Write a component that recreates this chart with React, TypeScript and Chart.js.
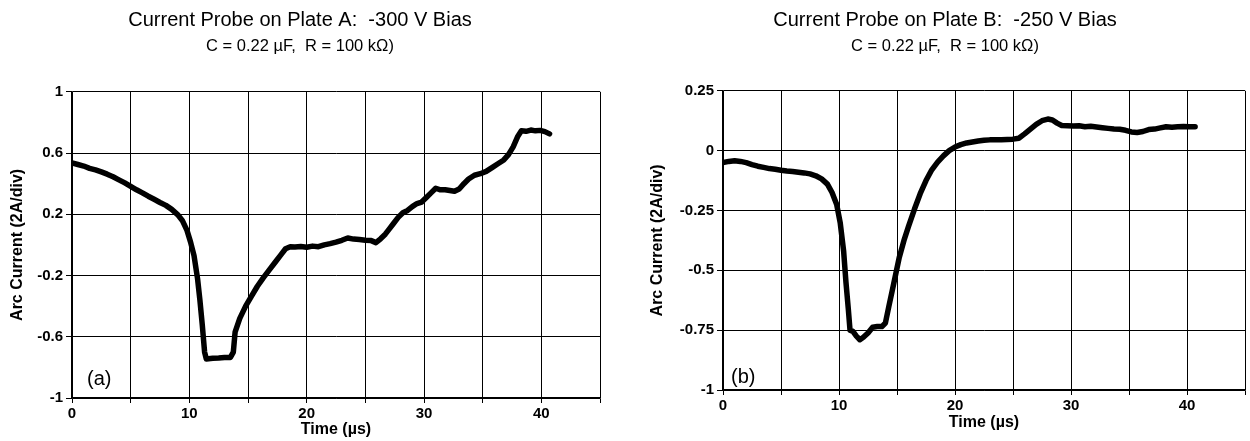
import React, { useEffect, useRef } from "react";
import { Chart, registerables } from "chart.js";

Chart.register(...registerables);

const FONT = "'Liberation Sans', Arial, Helvetica, sans-serif";

const titleA = "Current Probe on Plate A:  -300 V Bias";
const titleB = "Current Probe on Plate B:  -250 V Bias";
const subtitleText = "C = 0.22 µF,  R = 100 kΩ)";
const yAxisTitle = "Arc Current (2A/div)";
const xAxisTitle = "Time (µs)";
const panelA = "(a)";
const panelB = "(b)";

const xGrid = [0, 5, 10, 15, 20, 25, 30, 35, 40, 45];
const xTickLabels = [0, 10, 20, 30, 40];
const yTicksA = [-1, -0.6, -0.2, 0.2, 0.6, 1];
const yTicksB = [-1, -0.75, -0.5, -0.25, 0, 0.25];

const timeA = [
  0, 0.5, 1, 1.5, 2, 2.5, 3, 3.5, 4, 4.5, 5, 5.5, 6, 6.5, 7, 7.5, 8, 8.5, 9, 9.4,
  9.8, 10.1, 10.4, 10.7, 10.9, 11.1, 11.3, 11.45, 12, 12.5, 13, 13.5, 13.75, 13.9, 14.3, 14.8, 15.3, 15.8, 16.3, 16.8,
  17.3, 17.8, 18.2, 18.6, 19, 19.5, 20, 20.5, 21, 21.5, 22, 22.5, 23, 23.5, 24, 24.5, 25, 25.5, 25.9, 26.3,
  26.7, 27, 27.4, 27.8, 28.2, 28.6, 29, 29.4, 29.8, 30.2, 30.6, 31, 31.4, 31.8, 32.2, 32.6, 33, 33.4, 33.8, 34.3,
  34.8, 35.3, 35.8, 36.3, 36.8, 37.2, 37.6, 38, 38.3, 38.7, 39.1, 39.5, 39.9, 40.3, 40.7,
];
const currentA = [
  0.535, 0.525, 0.515, 0.5, 0.49, 0.477, 0.462, 0.445, 0.425, 0.405, 0.383, 0.36, 0.34, 0.318, 0.298, 0.277, 0.258, 0.232, 0.198, 0.16,
  0.095, 0.02, -0.07, -0.22, -0.36, -0.52, -0.7, -0.745, -0.74, -0.738, -0.735, -0.735, -0.7, -0.57, -0.48, -0.4, -0.335, -0.27, -0.215, -0.165,
  -0.115, -0.065, -0.025, -0.012, -0.013, -0.01, -0.015, -0.008, -0.012, 0.0, 0.008, 0.018, 0.03, 0.045, 0.038, 0.035, 0.03, 0.028, 0.015, 0.04,
  0.07, 0.1, 0.14, 0.18, 0.21, 0.225, 0.25, 0.27, 0.28, 0.31, 0.34, 0.37, 0.36, 0.36, 0.355, 0.35, 0.365, 0.4, 0.43, 0.455,
  0.465, 0.48, 0.505, 0.53, 0.555, 0.59, 0.64, 0.71, 0.745, 0.742, 0.75, 0.745, 0.748, 0.74, 0.725,
];

const timeB = [
  0, 0.5, 1, 1.5, 2, 2.5, 3, 3.5, 4, 4.5, 5, 5.5, 6, 6.5, 7, 7.5, 8, 8.5, 9, 9.4,
  9.8, 10.1, 10.4, 10.6, 10.8, 10.95, 11.2, 11.5, 11.8, 12.1, 12.5, 12.9, 13.3, 13.7, 14, 14.3, 14.7, 15.2, 15.6, 16,
  16.5, 17, 17.5, 18, 18.5, 19, 19.5, 20, 20.5, 21, 21.5, 22, 22.5, 23, 23.5, 24, 24.5, 25, 25.5, 26,
  26.5, 27, 27.5, 28, 28.4, 28.8, 29.2, 29.7, 30.2, 30.7, 31.2, 31.7, 32.2, 32.7, 33.2, 33.7, 34.2, 34.7, 35.2, 35.7,
  36.2, 36.7, 37.2, 37.7, 38.2, 38.7, 39.2, 39.7, 40.2, 40.7,
];
const currentB = [
  -0.05, -0.045, -0.042, -0.045, -0.05, -0.058, -0.065, -0.07, -0.075, -0.078, -0.082, -0.085, -0.087, -0.09, -0.093, -0.097, -0.105, -0.118, -0.14, -0.175,
  -0.225, -0.3, -0.42, -0.55, -0.66, -0.75, -0.755, -0.775, -0.79, -0.78, -0.762, -0.738, -0.735, -0.735, -0.72, -0.65, -0.56, -0.445, -0.375, -0.315,
  -0.245, -0.18, -0.125, -0.08, -0.048, -0.022, 0.0, 0.015, 0.025, 0.032, 0.036, 0.04, 0.043, 0.045, 0.046, 0.046, 0.047, 0.048, 0.052, 0.07,
  0.09, 0.11, 0.125, 0.132, 0.128, 0.115, 0.105, 0.104, 0.103, 0.104, 0.1, 0.102, 0.099, 0.096, 0.093, 0.09, 0.089, 0.085, 0.078, 0.076,
  0.08, 0.088, 0.09, 0.095, 0.1, 0.098, 0.1, 0.101, 0.1, 0.1,
];

const panelLabelPlugin = {
  id: "panelLabel",
  afterDatasetsDraw(chart: any, _args: any, opts: any) {
    const { ctx, chartArea } = chart;
    ctx.save();
    ctx.font = `20px ${FONT}`;
    ctx.fillStyle = "#000";
    ctx.textAlign = "left";
    ctx.textBaseline = "middle";
    ctx.fillText(opts.text, chartArea.left + opts.dx, chartArea.bottom - opts.dy);
    ctx.restore();
  },
};

type PanelCfg = {
  title: string;
  times: number[];
  values: number[];
  yTicks: number[];
  yMin: number;
  yMax: number;
  panel: string;
  yWidth: number;
  yTitlePad: number;
  xHeight: number;
  xTitlePad: number;
  padRight: number;
  subPadBottom: number;
  labelDx: number;
  labelDy: number;
};

function makeConfig(p: PanelCfg): any {
  const tickFont = { family: FONT, size: 15, weight: "bold" as const };
  const axisTitleFont = { family: FONT, size: 16, weight: "bold" as const, lineHeight: 1.2 };
  return {
    type: "line",
    data: {
      datasets: [
        {
          data: p.times.map((t, i) => ({ x: t, y: p.values[i] })),
          borderColor: "#000",
          borderWidth: 5.5,
          pointRadius: 0,
          tension: 0,
          fill: false,
          borderJoinStyle: "round",
          borderCapStyle: "round",
        },
      ],
    },
    options: {
      responsive: false,
      animation: false,
      devicePixelRatio: 1,
      layout: { padding: { left: 0, right: p.padRight, top: 0, bottom: 0 } },
      plugins: {
        legend: { display: false },
        tooltip: { enabled: false },
        title: {
          display: true,
          text: p.title,
          color: "#000",
          fullSize: true,
          font: { family: FONT, size: 20, weight: "normal", lineHeight: 1.2 },
          padding: { top: 8, bottom: 0 },
        },
        subtitle: {
          display: true,
          text: subtitleText,
          color: "#000",
          fullSize: true,
          font: { family: FONT, size: 16.5, weight: "normal", lineHeight: 1.2 },
          padding: { top: 5, bottom: p.subPadBottom },
        },
        panelLabel: { text: p.panel, dx: p.labelDx, dy: p.labelDy },
      },
      scales: {
        x: {
          type: "linear",
          min: 0,
          max: 45,
          afterBuildTicks: (scale: any) => {
            scale.ticks = xGrid.map((v) => ({ value: v }));
          },
          afterFit: (scale: any) => {
            scale.height = p.xHeight;
          },
          ticks: {
            autoSkip: false,
            maxRotation: 0,
            color: "#000",
            font: tickFont,
            padding: 2,
            callback: (v: any) => (xTickLabels.includes(Number(v)) ? String(v) : ""),
          },
          grid: { color: "#000", lineWidth: 1, tickLength: 5, drawTicks: true },
          border: { display: true, color: "#000", width: 1.5 },
          title: {
            display: true,
            text: xAxisTitle,
            color: "#000",
            font: axisTitleFont,
            padding: { top: 0, bottom: p.xTitlePad },
          },
        },
        y: {
          type: "linear",
          min: p.yMin,
          max: p.yMax,
          afterBuildTicks: (scale: any) => {
            scale.ticks = p.yTicks.map((v) => ({ value: v }));
          },
          afterFit: (scale: any) => {
            scale.width = p.yWidth;
          },
          ticks: {
            color: "#000",
            font: tickFont,
            padding: 3,
            callback: (v: any) => String(Number(Number(v).toFixed(2))),
          },
          grid: { color: "#000", lineWidth: 1, tickLength: 6, drawTicks: true },
          border: { display: true, color: "#000", width: 1.5 },
          title: {
            display: true,
            text: yAxisTitle,
            color: "#000",
            font: axisTitleFont,
            padding: { top: p.yTitlePad, bottom: 0 },
          },
        },
      },
    },
    plugins: [panelLabelPlugin],
  };
}

function ChartPanel({ cfg, left, width }: { cfg: PanelCfg; left: number; width: number }) {
  const ref = useRef<HTMLCanvasElement | null>(null);
  useEffect(() => {
    if (!ref.current) return;
    const chart = new Chart(ref.current, makeConfig(cfg));
    return () => chart.destroy();
  }, [cfg]);
  return (
    <canvas
      ref={ref}
      width={width}
      height={441}
      style={{ position: "absolute", left, top: 0, width, height: 441 }}
    />
  );
}

const cfgA: PanelCfg = {
  title: titleA,
  times: timeA,
  values: currentA,
  yTicks: yTicksA,
  yMin: -1,
  yMax: 1,
  panel: panelA,
  yWidth: 72,
  yTitlePad: 8,
  xHeight: 43,
  xTitlePad: 1.5,
  padRight: 2,
  subPadBottom: 35,
  labelDx: 15,
  labelDy: 19,
};

const cfgB: PanelCfg = {
  title: titleB,
  times: timeB,
  values: currentB,
  yTicks: yTicksB,
  yMin: -1,
  yMax: 0.25,
  panel: panelB,
  yWidth: 78,
  yTitlePad: 2.5,
  xHeight: 51,
  xTitlePad: 9,
  padRight: 5,
  subPadBottom: 34,
  labelDx: 8,
  labelDy: 13,
};

export default function App() {
  return (
    <div
      style={{
        position: "fixed",
        left: 0,
        top: 0,
        width: 1250,
        height: 441,
        background: "#fff",
        overflow: "hidden",
      }}
    >
      <ChartPanel cfg={cfgA} left={0} width={602} />
      <ChartPanel cfg={cfgB} left={645} width={605} />
    </div>
  );
}
